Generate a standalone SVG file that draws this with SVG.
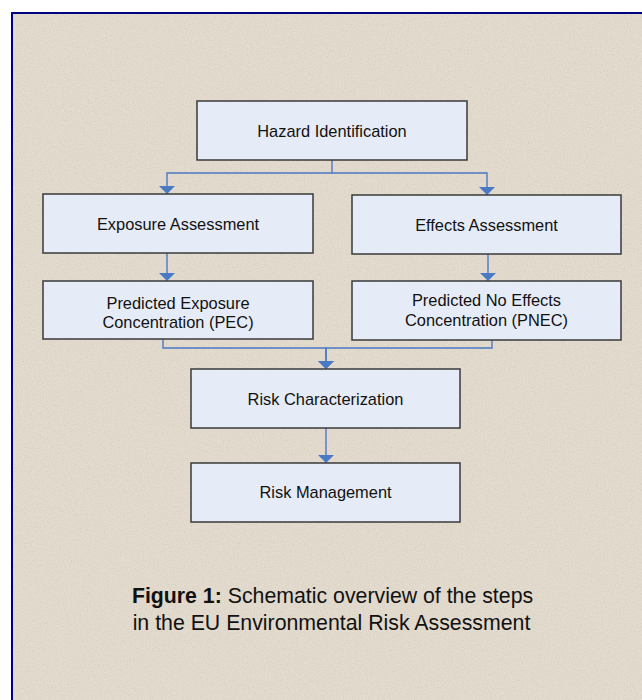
<svg xmlns="http://www.w3.org/2000/svg" width="642" height="700" viewBox="0 0 642 700">
  <defs>
    <style>
      .box { fill: #E6ECF7; stroke: #3A3A3A; stroke-width: 1.5; }
      .lbl { font-family: "Liberation Sans", Arial, sans-serif; font-size: 16.4px; fill: #111111; text-anchor: middle; }
      .cap { font-family: "Liberation Sans", Arial, sans-serif; font-size: 21.3px; fill: #111111; text-anchor: middle; }
      .conn { fill: none; stroke: #4A7AC4; stroke-width: 1.4; marker-end: url(#arr); }
    </style>
    <marker id="arr" markerUnits="userSpaceOnUse" viewBox="0 0 8 16" refX="8" refY="8" markerWidth="8" markerHeight="16" orient="auto">
      <path d="M0,0 L8,8 L0,16 Z" fill="#4A7AC4"/>
    </marker>
    <filter id="grain" x="0" y="0" width="100%" height="100%">
      <feTurbulence type="fractalNoise" baseFrequency="0.7" numOctaves="2" seed="5"/>
      <feColorMatrix type="matrix" values="0 0 0 0 0.55  0 0 0 0 0.50  0 0 0 0 0.42  0 0 0 1.4 -0.62"/>
    </filter>
  </defs>
  <rect x="0" y="0" width="642" height="700" fill="#FFFFFF"/>
  <rect x="12" y="13" width="640" height="700" fill="#E3DBCE" stroke="#000080" stroke-width="2"/>
  <rect x="13" y="14" width="629" height="686" filter="url(#grain)" opacity="0.6"/>

  <g id="connectors">
    <path class="conn" d="M332,160 V173 H167 V194"/>
    <path class="conn" d="M332,173 H487 V195"/>
    <path class="conn" d="M167,253 V281"/>
    <path class="conn" d="M488,254 V281"/>
    <path class="conn" d="M163,339 V348 H326 V369"/>
    <path class="conn" d="M492,340 V348 H326 V369"/>
    <path class="conn" d="M326,428 V463"/>
  </g>

  <g id="hazard">
    <rect class="box" x="197" y="101" width="270" height="59"/>
    <text class="lbl" x="332" y="136.5">Hazard Identification</text>
  </g>
  <g id="exposure">
    <rect class="box" x="43" y="194" width="270" height="59"/>
    <text class="lbl" x="178" y="230">Exposure Assessment</text>
  </g>
  <g id="effects">
    <rect class="box" x="352" y="195" width="269" height="59"/>
    <text class="lbl" x="486.5" y="230.5">Effects Assessment</text>
  </g>
  <g id="pec">
    <rect class="box" x="43" y="281" width="270" height="58"/>
    <text class="lbl" x="178" y="309">Predicted Exposure</text>
    <text class="lbl" x="178" y="328">Concentration (PEC)</text>
  </g>
  <g id="pnec">
    <rect class="box" x="352" y="281" width="269" height="59"/>
    <text class="lbl" x="486.5" y="306">Predicted No Effects</text>
    <text class="lbl" x="486.5" y="325.5">Concentration (PNEC)</text>
  </g>
  <g id="risk-char">
    <rect class="box" x="191" y="369" width="269" height="59"/>
    <text class="lbl" x="325.5" y="404.5">Risk Characterization</text>
  </g>
  <g id="risk-mgmt">
    <rect class="box" x="191" y="463" width="269" height="59"/>
    <text class="lbl" x="325.5" y="497.5">Risk Management</text>
  </g>

  <g id="caption">
    <text class="cap" x="332.5" y="603"><tspan font-weight="bold">Figure 1:</tspan> Schematic overview of the steps</text>
    <text class="cap" x="331.5" y="630">in the EU Environmental Risk Assessment</text>
  </g>
</svg>
